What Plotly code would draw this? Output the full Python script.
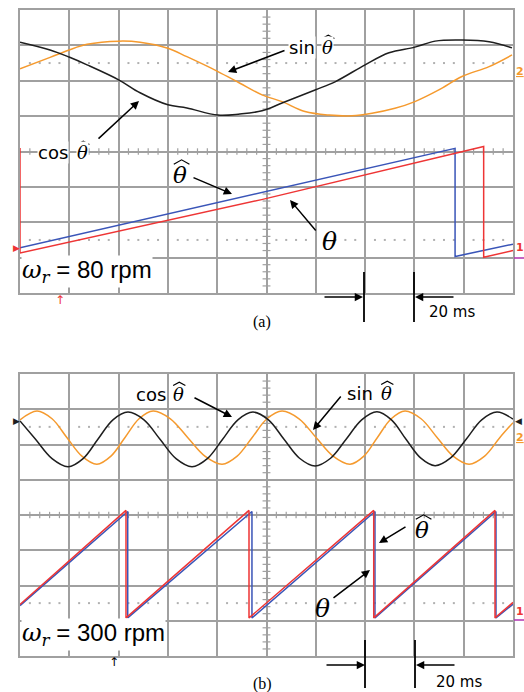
import plotly.graph_objects as go

W, H = 524, 692

# ---------------- data (time in ms, amplitude in scope divisions) ----------------
# panel (a): omega_r = 80 rpm
a_cos_t = [0, 12.2, 19.9, 27.2, 40.2, 48.7, 60, 67.7, 80.3, 89.2, 98.2, 106.3, 119.7, 127.8,
           140, 149.7, 160.2, 168.4, 179.3, 190.3, 199.6]
a_cos_v = [3.09, 2.87, 2.67, 2.45, 2.02, 1.66, 1.32, 1.23, 1.03, 1.06, 1.15, 1.37, 1.74, 1.97,
           2.45, 2.79, 2.95, 3.12, 3.15, 3.10, 2.93]
a_sin_t = [0, 12.2, 19.9, 27.2, 40.2, 48.7, 60, 67.7, 80.3, 89.2, 98.2, 106.3, 115.6, 125.4,
           134.7, 142.8, 152.1, 160.2, 169.9, 179.3, 190.3, 199.6]
a_sin_v = [2.34, 2.66, 2.87, 3.03, 3.12, 3.09, 2.92, 2.68, 2.26, 1.93, 1.60, 1.41, 1.13, 1.03,
           1.01, 1.08, 1.22, 1.41, 1.74, 2.12, 2.40, 2.73]
a_thhat_t = [0, 98, 176.5, 176.5, 200]
a_thhat_v = [-2.72, -1.17, 0.09, -2.97, -2.62]
a_th_t = [0, 0, 98, 188.1, 188.1, 200]
a_th_v = [0.10, -2.87, -1.36, 0.14, -2.99, -2.80]

# panel (b): omega_r = 300 rpm
b_cos_t = [0, 6.3, 13.0, 19.5, 25.6, 31.6, 37.7, 43.8, 50.3, 56.8, 63.3, 69.8, 76.0, 82.2,
           88.4, 94.5, 100.8, 107.1, 113.4, 119.7, 126.0, 132.3, 138.6, 144.8, 150.7, 156.6,
           162.5, 168.4, 174.7, 181, 187.3, 193.5, 200]
b_cos_v = [2.67, 2.15, 1.60, 1.37, 1.60, 2.15, 2.70, 2.92, 2.70, 2.15, 1.60, 1.37, 1.60, 2.15,
           2.70, 2.92, 2.70, 2.15, 1.61, 1.39, 1.61, 2.15, 2.70, 2.93, 2.70, 2.15, 1.62, 1.40,
           1.62, 2.15, 2.70, 2.92, 2.72]
b_sin_t = [0, 6.9, 13.0, 19, 25.1, 31.2, 36.9, 42.6, 48.3, 54, 61, 68, 75, 82, 88.1, 94.2,
           100.2, 106.3, 113.2, 120.1, 127.0, 133.9, 139.5, 145, 150.6, 156.2, 162.7, 169.2,
           175.7, 182.2, 188.5, 194.7, 200]
b_sin_v = [2.70, 2.95, 2.73, 2.2, 1.67, 1.44, 1.67, 2.2, 2.73, 2.95, 2.73, 2.2, 1.67, 1.44,
           1.67, 2.2, 2.73, 2.95, 2.73, 2.2, 1.67, 1.44, 1.67, 2.2, 2.73, 2.95, 2.73, 2.2,
           1.67, 1.44, 1.67, 2.2, 2.62]
b_thhat_t = [0, 43.7, 43.7, 94.1, 94.1, 144.0, 144.0, 193.1, 193.1, 200]
b_thhat_v = [-2.57, 0.10, -2.92, 0.10, -2.92, 0.10, -2.92, 0.10, -2.92, -2.53]
b_th_t = [0, 43.0, 43.0, 92.9, 92.9, 143.5, 143.5, 192.7, 192.7, 200]
b_th_v = [-2.54, 0.13, -2.92, 0.13, -2.92, 0.13, -2.92, 0.13, -2.92, -2.48]

# ---------------- styling ----------------
BLACK = "#1e1e1e"
ORANGE = "#f59a2e"
BLUE = "#3a55b8"
RED = "#ee3535"
GRID = "#a0a0a0"
SANS = "DejaVu Sans"
SERIF = "DejaVu Serif"


def px(x):
    return x / W


def py(y):
    return 1 - y / H


fig = go.Figure()


def line(t, v, color, ax, spline=False, width=1.5):
    fig.add_trace(go.Scatter(
        x=t, y=v, mode="lines", xaxis=ax[0], yaxis=ax[1],
        line=dict(color=color, width=width, shape="spline" if spline else "linear",
                  smoothing=1.0),
        hoverinfo="skip", showlegend=False))


# decorations: center-line ticks and dotted reference lines
for ax in (("x", "y"), ("x2", "y2")):
    tx, ty = [], []
    for k in range(1, 50):
        if k % 5:
            tx += [4 * k, 4 * k, None]
            ty += [-0.09, 0.09, None]
    for k in range(-19, 20):
        if k % 5:
            tx += [98.4, 101.6, None]
            ty += [0.2 * k, 0.2 * k, None]
    fig.add_trace(go.Scatter(x=tx, y=ty, mode="lines", xaxis=ax[0], yaxis=ax[1],
                             line=dict(color=GRID, width=1.2), hoverinfo="skip",
                             showlegend=False))
    dx = [4 * k for k in range(1, 50) if k % 5]
    for lev in (2.5, -2.5):
        fig.add_trace(go.Scatter(x=dx, y=[lev] * len(dx), mode="markers",
                                 xaxis=ax[0], yaxis=ax[1],
                                 marker=dict(color="#b0b0b0", size=2, symbol="square"),
                                 hoverinfo="skip", showlegend=False))

A = ("x", "y")
B = ("x2", "y2")
line(a_sin_t, a_sin_v, ORANGE, A, spline=True)
line(a_cos_t, a_cos_v, BLACK, A, spline=True)
line(a_thhat_t, a_thhat_v, BLUE, A)
line(a_th_t, a_th_v, RED, A)
line(b_sin_t, b_sin_v, ORANGE, B, spline=True)
line(b_cos_t, b_cos_v, BLACK, B, spline=True)
line(b_thhat_t, b_thhat_v, BLUE, B)
line(b_th_t, b_th_v, RED, B)

axis_common = dict(showticklabels=False, ticks="", showgrid=True, gridcolor=GRID,
                   gridwidth=1.5, zeroline=False, showline=True, linecolor=GRID,
                   linewidth=1.5, mirror=True, fixedrange=True)
xd = [20 / W, 513 / W]
fig.update_layout(
    width=W, height=H, margin=dict(l=0, r=0, t=0, b=0),
    paper_bgcolor="white", plot_bgcolor="white",
    xaxis=dict(domain=xd, range=[0, 200], dtick=20, tick0=0, anchor="y", **axis_common),
    yaxis=dict(domain=[py(293), py(10)], range=[-4, 4], dtick=1, tick0=0, anchor="x",
               **axis_common),
    xaxis2=dict(domain=xd, range=[0, 200], dtick=20, tick0=0, anchor="y2", **axis_common),
    yaxis2=dict(domain=[py(656), py(374)], range=[-4, 4], dtick=1, tick0=0, anchor="x2",
                **axis_common),
)

ann = []
shapes = []


def text(x, y, s, size=16, family=SANS, color="black", xanchor="center", bg=None):
    d = dict(x=px(x), y=py(y), xref="paper", yref="paper", text=s, showarrow=False,
             xanchor=xanchor, yanchor="middle", font=dict(size=size, family=family,
                                                          color=color))
    if bg:
        d["bgcolor"] = bg
        d["borderpad"] = 0
    ann.append(d)


def arrow(hx, hy, tx, ty, color="black"):
    ann.append(dict(x=px(hx), y=py(hy), xref="paper", yref="paper", text="",
                    showarrow=True, ax=tx - hx, ay=ty - hy, arrowhead=2, arrowsize=1.1,
                    arrowwidth=1.5, arrowcolor=color))


def theta(cx, cy, size, hat=True, bg=None):
    text(cx, cy, "<i>θ</i>", size=size, family=SERIF, bg=bg)
    if hat:
        top = cy - 0.42 * size
        hw = 0.34 * size
        sh = 0.07 * size
        x0, x1, x2 = cx - hw + sh, cx + sh, cx + hw + sh
        y0, y1 = top - 1, top - 0.24 * size
        shapes.append(dict(type="path", xref="paper", yref="paper",
                           path=f"M {px(x0)},{py(y0)} L {px(x1)},{py(y1)} L {px(x2)},{py(y0)}",
                           line=dict(color="black", width=1.2)))


# ---- panel (a) ----
text(302, 47, "sin", size=18, bg="white")
theta(327, 47, 18, bg="white")
arrow(228, 72, 286, 50)
text(53, 153, "cos", size=18, bg="white")
theta(82, 153, 18, bg="white")
arrow(139, 101, 97, 140)
theta(180, 175, 23)
arrow(232, 194, 192, 177)
theta(329, 241, 25, hat=False)
arrow(290, 200, 317, 232)
text(21, 271, "<span style='font-family:DejaVu Serif'><i>ω</i><sub><i>r</i></sub></span>"
     " = 80 rpm", size=24, family="Liberation Sans Narrow, Liberation Sans",
     xanchor="left", bg="white")
text(60, 300, "↑", size=12, color=RED)
text(16, 248, "▶", size=9, color=RED)
text(514, 71, "<b><u>2</u></b>", size=11, color=ORANGE, xanchor="left")
text(514, 248, "<b>1</b>", size=11, color=RED, xanchor="left")
text(262, 322, "(a)", size=16, family="Liberation Serif")
text(427, 312, "20 ms", size=15, xanchor="left")
arrow(363, 297, 323, 297)
arrow(415, 297, 455, 297)

# ---- panel (b) ----
text(151, 394, "cos", size=18)
theta(178, 394, 18)
arrow(232, 417, 193, 397)
text(360, 393, "sin", size=18)
theta(386, 393, 18)
arrow(313, 430, 342, 395)
theta(422, 530, 23)
arrow(379, 543, 407, 526)
theta(322, 608, 25, hat=False)
arrow(370, 570, 332, 599)
text(21, 634, "<span style='font-family:DejaVu Serif'><i>ω</i><sub><i>r</i></sub></span>"
     " = 300 rpm", size=24, family="Liberation Sans Narrow, Liberation Sans",
     xanchor="left", bg="white")
text(114, 662, "↑", size=12, color="black")
text(16, 421, "▶", size=9, color=BLACK)
text(518, 421, "◀", size=9, color=BLACK)
text(514, 437, "<b><u>2</u></b>", size=11, color=ORANGE, xanchor="left")
text(514, 611, "<b>1</b>", size=11, color=RED, xanchor="left")
text(262, 684, "(b)", size=16, family="Liberation Serif")
text(434, 682, "20 ms", size=15, xanchor="left")
arrow(365, 665, 325, 665)
arrow(416, 665, 456, 665)

fig.update_layout(annotations=ann)

for x, y0, y1 in ((364, 272, 322), (414, 272, 322), (365, 640, 688), (415, 640, 688)):
    shapes.append(dict(type="line", xref="paper", yref="paper", x0=px(x), x1=px(x),
                       y0=py(y0), y1=py(y1), line=dict(color="black", width=1.8)))
for y in (258, 620):
    shapes.append(dict(type="line", xref="paper", yref="paper", x0=px(514), x1=px(524),
                       y0=py(y), y1=py(y), line=dict(color="#b030b0", width=1.5)))
fig.update_layout(shapes=shapes)

fig.write_html("out.html", config={"displayModeBar": False},
               post_script="document.body.style.margin='0';"
                           "document.body.style.overflow='hidden';")
